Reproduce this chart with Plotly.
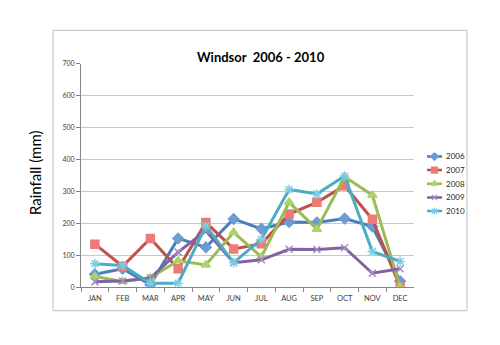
import plotly.graph_objects as go

months = ["JAN", "FEB", "MAR", "APR", "MAY", "JUN", "JUL", "AUG", "SEP", "OCT", "NOV", "DEC"]

rain_2006 = [41, 58, 8, 153, 125, 214, 183, 204, 203, 215, 190, 19]
rain_2007 = [135, 66, 153, 58, 203, 120, 136, 229, 266, 318, 213, 2]
rain_2008 = [34, 18, 30, 83, 70, 172, 95, 266, 182, 346, 288, 1]
rain_2009 = [17, 20, 29, 110, 177, 77, 86, 119, 118, 124, 44, 58]
rain_2010 = [74, 68, 13, 13, 192, 77, 150, 306, 292, 348, 112, 81]

series = [
    ("2006", rain_2006, "#4A7EBB", "#6E9BD2", "diamond", 8),
    ("2007", rain_2007, "#C0504D", "#EC7B76", "square", 8),
    ("2008", rain_2008, "#9BBB59", "#AFD16B", "triangle-up", 8),
    ("2009", rain_2009, "#8064A2", "#A58AC8", "x-thin-open", 7),
    ("2010", rain_2010, "#4BACC6", "#7ACDE2", "asterisk-open", 8),
]

FONT = "Lato"

W, H = 500, 345


def px_x(x):
    return x / W


def px_y(y):
    return 1 - y / H


fig = go.Figure()
for name, vals, line_c, mark_c, sym, size in series:
    fig.add_trace(go.Scatter(
        x=months, y=vals, name=name, mode="lines+markers", showlegend=False,
        line=dict(color=line_c, width=3),
        marker=dict(symbol=sym, size=size, color=mark_c,
                    line=dict(color=mark_c, width=1.5)),
    ))

# compact legend keys on a small auxiliary axis pair
# (x: one unit = sample line length, y: row index)
key_rows = list(range(len(series)))
for row, (name, vals, line_c, mark_c, sym, size) in zip(key_rows, series):
    fig.add_trace(go.Scatter(
        x=[0, 1], y=[row, row], mode="lines", xaxis="x2", yaxis="y2",
        line=dict(color=line_c, width=2.5), showlegend=False, hoverinfo="skip",
    ))
    fig.add_trace(go.Scatter(
        x=[0.5], y=[row], mode="markers", xaxis="x2", yaxis="y2",
        marker=dict(symbol=sym, size=size - 2, color=mark_c,
                    line=dict(color=mark_c, width=1.2)),
        showlegend=False, hoverinfo="skip",
    ))
    fig.add_annotation(
        text=name, x=1.15, y=row, xref="x2", yref="y2", xanchor="left",
        showarrow=False, font=dict(size=8, family=FONT, color="#262626"),
    )

fig.update_layout(
    width=W, height=H,
    margin=dict(l=0, r=0, t=0, b=0),
    paper_bgcolor="white", plot_bgcolor="white",
    font=dict(family=FONT, color="#404040"),
    showlegend=False,
    xaxis=dict(type="category", range=[-0.5, 11.5], showgrid=False,
               domain=[px_x(81), px_x(414)],
               showline=True, linecolor="#868686", linewidth=1,
               ticks="outside", ticklen=4, tickcolor="#868686",
               tickson="boundaries", ticklabelstandoff=4,
               tickfont=dict(size=7.5, family=FONT, color="#404040")),
    yaxis=dict(range=[0, 700], dtick=100, showgrid=True, gridcolor="#C8C8C8",
               domain=[px_y(289), px_y(60)],
               gridwidth=1, zeroline=False,
               showline=True, linecolor="#868686", linewidth=1,
               ticks="outside", ticklen=4, tickcolor="#868686",
               tickfont=dict(size=7, family=FONT, color="#404040")),
    # key area: sample line 427..442 px, labels after it; rows at 155..211 px
    xaxis2=dict(domain=[px_x(427), px_x(466)], range=[0, 39 / 15], anchor="y2",
                visible=False, fixedrange=True),
    yaxis2=dict(domain=[px_y(215), px_y(151)], range=[4 + 4 / 14, -4 / 14],
                anchor="x2", visible=False, fixedrange=True),
    shapes=[dict(type="rect", xref="paper", yref="paper",
                 x0=px_x(53), x1=px_x(467), y0=px_y(313), y1=px_y(26),
                 line=dict(color="#BFBFBF", width=1), layer="below")],
)

fig.add_annotation(text="<b>Windsor  2006 - 2010</b>", xref="paper", yref="paper",
                   x=px_x(261), y=px_y(43), showarrow=False,
                   font=dict(size=13, family=FONT, color="#000000"))
fig.add_annotation(text="Rainfall (mm)", xref="paper", yref="paper",
                   x=px_x(35), y=px_y(172), textangle=-90, showarrow=False,
                   xanchor="center", yanchor="middle",
                   font=dict(size=15, family=FONT, color="#000000"))

fig.write_html("out.html")
